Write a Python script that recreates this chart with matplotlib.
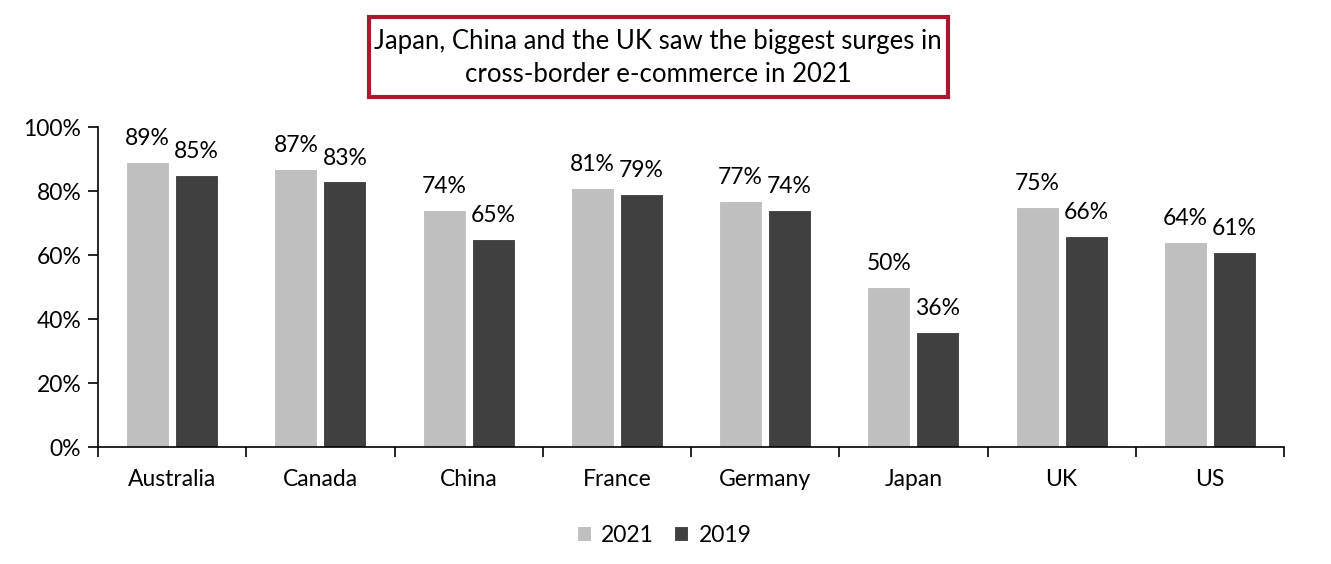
import matplotlib.pyplot as plt
from matplotlib.patches import Rectangle
import numpy as np

countries = ['Australia', 'Canada', 'China', 'France', 'Germany', 'Japan', 'UK', 'US']
y2021 = [89, 87, 74, 81, 77, 50, 75, 64]
y2019 = [85, 83, 65, 79, 74, 36, 66, 61]
title = 'Japan, China and the UK saw the biggest surges in\ncross-border e-commerce in 2021'

plt.rcParams['font.family'] = ['Lato', 'DejaVu Sans']
fs = 16.5
fig = plt.figure(figsize=(13.31, 5.64), dpi=100)
ax = fig.add_axes([98/1331, 1-447/564, (1284-98)/1331, 320/564])

x = np.arange(len(countries))
w = 0.29
off = 0.165
b1 = ax.bar(x - off, y2021, w, color='#bfbfbf', edgecolor='white', linewidth=0.8, label='2021')
b2 = ax.bar(x + off, y2019, w, color='#404040', edgecolor='white', linewidth=0.8, label='2019')
for bars, vals in ((b1, y2021), (b2, y2019)):
    for r, v in zip(bars, vals):
        ax.text(r.get_x() + r.get_width()/2, v + 4.0, f'{v}%', ha='center', va='bottom', fontsize=fs)

ax.set_xlim(-0.5, len(countries) - 0.5)
ax.set_ylim(0, 100)
ax.set_yticks(range(0, 101, 20))
ax.set_yticklabels([f'{t}%' for t in range(0, 101, 20)], fontsize=fs)
ax.set_xticks(x)
ax.set_xticklabels(countries, fontsize=fs)
ax.tick_params(axis='x', length=0, pad=16)
ax.set_xticks(np.arange(-0.5, len(countries)), minor=True)
ax.tick_params(axis='x', which='minor', length=7, width=1.2, direction='out')
ax.tick_params(axis='y', length=7, width=1.2, pad=5)
for s in ['top', 'right']:
    ax.spines[s].set_visible(False)
ax.spines['left'].set_linewidth(1.2)
ax.spines['bottom'].set_linewidth(1.2)

fig.legend(handles=[b1, b2], loc='center', bbox_to_anchor=(664/1331, 1-535/564), ncol=2, frameon=False,
           fontsize=fs, handlelength=0.6, handleheight=0.6, handletextpad=0.45, columnspacing=0.9)

fig.patches.append(Rectangle((369/1331, 1-97/564), (948-369)/1331, 80/564, transform=fig.transFigure,
                             fill=False, edgecolor='#a6192e', linewidth=3))
fig.text(658/1331, 1-58/564, title, ha='center', va='center', fontsize=18.5, linespacing=1.35)

fig.savefig('out.png', dpi=100)
